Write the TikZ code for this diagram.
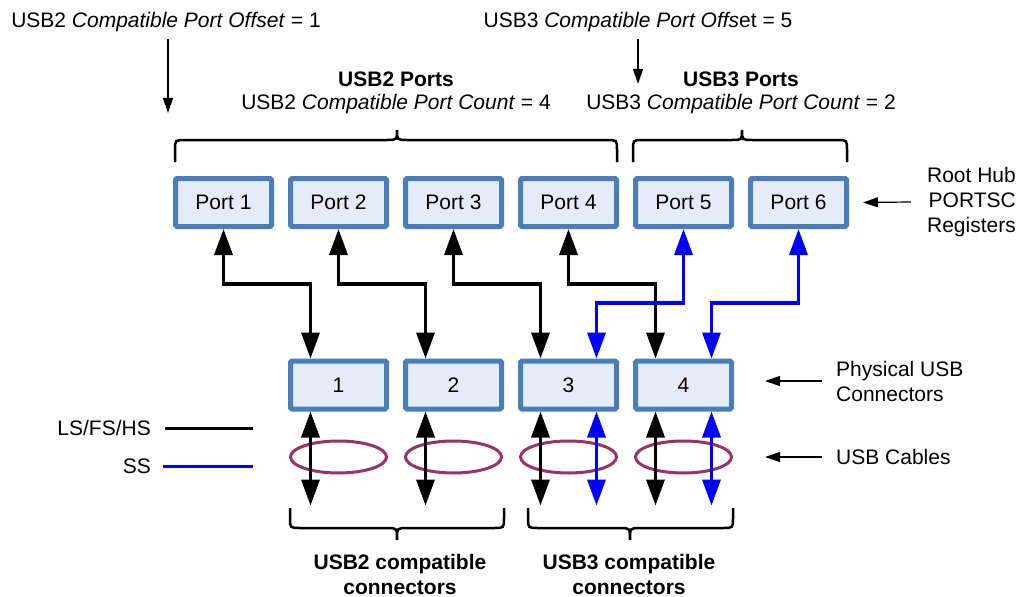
\documentclass[tikz,border=0pt]{standalone}
\usepackage{fontspec}
\setmainfont{Liberation Sans}
\usetikzlibrary{arrows.meta,shapes.geometric}

\definecolor{boxblue}{HTML}{4A7EBB}
\definecolor{boxfill}{HTML}{E6ECF7}
\definecolor{cable}{HTML}{993366}

% curly braces: left end, tip, right end
\newcommand\topbrace[3]{%
  \draw[brace] (#1,162) -- (#1,150) .. controls (#1,140) .. (#1+10,140) -- (#2-10,140)
    .. controls (#2,140) .. (#2,130) .. controls (#2,140) .. (#2+10,140) -- (#3-10,140)
    .. controls (#3,140) .. (#3,150) -- (#3,162);}
\newcommand\botbrace[3]{%
  \draw[brace] (#1,508) -- (#1,518) .. controls (#1,528) .. (#1+10,528) -- (#2-10,528)
    .. controls (#2,528) .. (#2,540) .. controls (#2,528) .. (#2+10,528) -- (#3-10,528)
    .. controls (#3,528) .. (#3,518) -- (#3,508);}

\begin{document}
\fontsize{21}{25}\selectfont
\begin{tikzpicture}[x=1pt, y=-1pt,
    port/.style={draw=boxblue, fill=boxfill, line width=5pt, rounded corners=1.5pt,
      minimum width=96pt, minimum height=48pt, inner sep=0pt},
    link/.style={line width=3.5pt, {Triangle[width=18pt,length=26pt]}-{Triangle[width=18pt,length=26pt]}},
    sslink/.style={link, blue},
    hint/.style={line width=1.2pt, -{Triangle[width=10pt,length=15pt]}},
    loop/.style={ellipse, draw=cable, line width=3pt, minimum width=96pt, minimum height=32pt, inner sep=0pt},
    brace/.style={line width=2.5pt}]
  \useasboundingbox (0,0) rectangle (1021,597);

  % root hub ports and connectors
  \foreach \i/\x in {1/223.5, 2/338.5, 3/453.5, 4/568.5, 5/683.5, 6/798.5}
    \node[port] (p\i) at (\x,202.5) {Port \i};
  \foreach \i/\x in {1/338.5, 2/453.5, 3/568.5, 4/683.5}
    \node[port] (c\i) at (\x,385) {\i};

  % cables
  \foreach \i in {1,...,4}
    \node[loop] (e\i) at ([yshift=-72pt]c\i.center) {};

  % port to connector wiring
  \foreach \i in {1,...,4}
    \draw[link] (p\i.south) -- ++(0,55) -| ([xshift=-28pt]c\i.north);
  \draw[sslink] (p5.south) -- ++(0,74) -| ([xshift=28pt]c3.north);
  \draw[sslink] (p6.south) -- ++(0,74) -| ([xshift=28pt]c4.north);
  \foreach \i in {1,...,4}
    \draw[link] ([xshift=-28pt]c\i.south) -- ++(0,94);
  \draw[sslink] ([xshift=28pt]c3.south) -- ++(0,94);
  \draw[sslink] ([xshift=28pt]c4.south) -- ++(0,94);

  % port ranges
  \topbrace{175}{397}{617}
  \topbrace{633}{742}{847}
  \node[font=\bfseries] (u2) at (396,79) {USB2 Ports};
  \node (u2c) at (396,104) {USB2 \textit{Compatible Port Count} = 4};
  \node[font=\bfseries] (u3) at (741,79) {USB3 Ports};
  \node (u3c) at (741,104) {USB3 \textit{Compatible Port Count} = 2};
  \node (off2) at (166,22) {USB2 \textit{Compatible Port Offset} = 1};
  \node (off3) at (638,22) {USB3 \textit{Compatible Port Offs}et = 5};
  \draw[hint] ([xshift=2pt]off2.south) -- ++(0,74);
  \draw[hint] (off3.south) -- ++(0,45);

  % connector groups
  \botbrace{290}{397}{504}
  \botbrace{528}{630}{733}
  \node[font=\bfseries, align=center] (g2) at (400,574) {USB2 compatible\\connectors};
  \node[font=\bfseries, align=center] (g3) at (629,574) {USB3 compatible\\connectors};

  % side labels
  \node[anchor=east, align=right] (rh) at (1023,202) {Root Hub\\PORTSC\\Registers};
  \draw[hint] ([xshift=-9pt]rh.west) -- ([xshift=14pt]p6.east);
  \node[anchor=west, align=left] (phys) at (829,381) {Physical USB\\Connectors};
  \draw[hint] ([xshift=-7pt]phys.west) -- ([xshift=31pt]phys.west -| c4.east);
  \node[anchor=west] (cab) at (829,457) {USB Cables};
  \draw[hint] ([xshift=-7pt]cab.west) -- ([xshift=31pt]cab.west -| c4.east);

  % legend
  \node[anchor=east] (lg1) at (158,428) {LS/FS/HS};
  \draw[line width=3pt] ([xshift=7pt]lg1.east) -- ++(88,0);
  \node[anchor=east] (lg2) at (158,466) {SS};
  \draw[line width=3pt, blue] ([xshift=5pt]lg2.east) -- ++(90,0);
\end{tikzpicture}
\end{document}
